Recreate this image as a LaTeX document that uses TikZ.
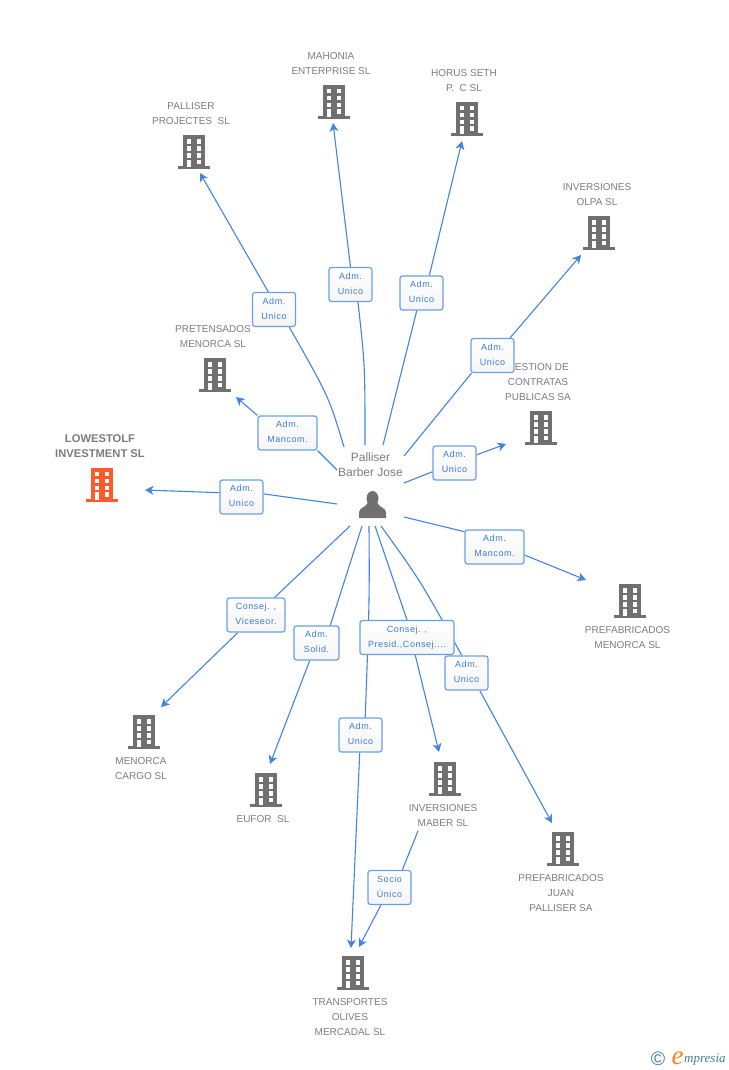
\documentclass[tikz,border=0pt]{standalone}
\usepackage{fontspec}
\setmainfont{Liberation Sans}
\newfontfamily\boxfont[LetterSpace=6]{Liberation Sans}
\newfontfamily\logofont{Liberation Serif}
\usetikzlibrary{arrows.meta,backgrounds}
\definecolor{linkblue}{HTML}{4383E2}
\definecolor{boxblue}{HTML}{6A9FE8}
\definecolor{boxtext}{HTML}{3B7BDC}
\definecolor{labelgray}{HTML}{7C7C7C}
\definecolor{bgray}{HTML}{707070}
\definecolor{borange}{HTML}{FF5A2B}
\definecolor{logoblue}{HTML}{3F7D98}
\definecolor{logoorange}{HTML}{F58220}
\tikzset{
  building/.style={minimum width=32pt,minimum height=35pt,inner sep=0pt,outer sep=0pt,
    path picture={
      \begin{scope}[shift={(path picture bounding box.center)}]
        \fill[#1] (-11,-17) rectangle (11,15);
        \fill[#1] (-16,14) rectangle (16,17);
        \foreach \wy in {-13,-6,1}
          \foreach \wx in {-7.4,2.6}
            \fill[white] (\wx,\wy) rectangle ++(4.8,4.5);
        \fill[white] (-7.4,7.5) rectangle (-2.6,15);
        \fill[white] (2.6,7.5) rectangle (7.4,12);
      \end{scope}
    }},
  building/.default=bgray,
  company/.style={text=labelgray,font=\fontsize{10}{15}\selectfont,align=center,inner sep=0pt},
  rolebox/.style={draw=boxblue,line width=1.2pt,rounded corners=2.5pt,top color=white,bottom color=black!4,
    text=boxtext,font=\boxfont\fontsize{9}{15}\selectfont,align=center,inner sep=0pt,minimum height=34pt,text depth=2pt},
  link/.style={draw=linkblue,line width=1.1pt},
  linkto/.style={link,-{Stealth[length=8.5pt,width=9pt,inset=2.5pt]}}
}
\begin{document}
\begin{tikzpicture}[x=1pt,y=-1pt]
\useasboundingbox (0,0) rectangle (728,1070);
% the free ends of the connectors
\foreach \pname/\px/\py in {s1/344/447,s2/365/445,s3/383/445,s4/404/456,s5/404/483,s6/337/470,s7/337/504,
    s8/404/517,s9/350/526,s10/362/526,s11/369/526,s12/375/526,s13/381/526,s14/418/831,
    t1/200/173,t2/333/123,t3/462/141,t4/581/255,t5/506/444,t6/236/397,t7/145/490,t8/586/580,
    t9/161/707,t10/270/764,t11/351/948,t12/439/752,t13/552/823,t14/359/947}
  \coordinate (\pname) at (\px,\py);
% the company names
\node[company] (palliserlabel) at (191,113.5) {PALLISER\\PROJECTES~ SL};
\node[company] (mahonialabel) at (331,63.5) {MAHONIA\\ENTERPRISE SL};
\node[company] (horuslabel) at (464,80.5) {HORUS SETH\\P.~ C SL};
\node[company] (olpalabel) at (597,194.5) {INVERSIONES\\OLPA SL};
\node[company] (gestionlabel) at (538,382) {GESTION DE\\CONTRATAS\\PUBLICAS SA};
\node[company] (pretensadoslabel) at (213,336.5) {PRETENSADOS\\MENORCA SL};
\node[company,font=\bfseries\fontsize{11.2}{15}\selectfont] (lowestolflabel) at (100,446.5) {LOWESTOLF\\INVESTMENT SL};
\node[company,font=\fontsize{12}{15}\selectfont] (personlabel) at (370.5,464.5) {Palliser\\Barber Jose};
\node[company] (prefmenorcalabel) at (627.5,637.5) {PREFABRICADOS\\MENORCA SL};
\node[company] (cargolabel) at (141,768.5) {MENORCA\\CARGO SL};
\node[company] (euforlabel) at (263,819) {EUFOR~ SL};
\node[company] (maberlabel) at (443,815.5) {INVERSIONES\\MABER SL};
\node[company] (juanlabel) at (561,893) {PREFABRICADOS\\JUAN\\PALLISER SA};
\node[company] (transporteslabel) at (350,1017) {TRANSPORTES\\OLIVES\\MERCADAL SL};
% the buildings
\node[building] (palliser) at (194,152) {};
\node[building] (mahonia) at (334,102) {};
\node[building] (horus) at (467,119) {};
\node[building] (olpa) at (599,233) {};
\node[building] (gestion) at (541,428) {};
\node[building] (pretensados) at (215,375) {};
\node[building=borange] (lowestolf) at (102,484.5) {};
\node[building] (prefmenorca) at (630,601) {};
\node[building] (cargo) at (144,732) {};
\node[building] (eufor) at (266,790) {};
\node[building] (maber) at (445,779) {};
\node[building] (juan) at (563,849) {};
\node[building] (transportes) at (353,973) {};
% the person
\node[minimum size=32pt,inner sep=0pt,path picture={
    \begin{scope}[shift={(path picture bounding box.center)}]
      \fill[bgray] (0,-6.5) ellipse (6 and 7.5);
      \fill[bgray] (-13.5,13) -- (-13.5,7) .. controls (-12.5,2) and (-6.5,2.5) .. (-5,-2)
        -- (5,-2) .. controls (6.5,2.5) and (12.5,2) .. (13.5,7) -- (13.5,13) -- cycle;
    \end{scope}
  }] (person) at (372.5,505) {};
% the role boxes
\node[rolebox,minimum width=43pt] (b1) at (274,309.5) {Adm.\\Unico};
\node[rolebox,minimum width=43pt] (b2) at (350.5,284.5) {Adm.\\Unico};
\node[rolebox,minimum width=43pt] (b3) at (421.5,293) {Adm.\\Unico};
\node[rolebox,minimum width=43pt] (b4) at (492.5,355.5) {Adm.\\Unico};
\node[rolebox,minimum width=43pt] (b5) at (454.5,463) {Adm.\\Unico};
\node[rolebox,minimum width=59pt] (b6) at (287.5,433) {Adm.\\Mancom.};
\node[rolebox,minimum width=43pt] (b7) at (241.5,497) {Adm.\\Unico};
\node[rolebox,minimum width=59pt] (b8) at (494.5,547) {Adm.\\Mancom.};
\node[rolebox,minimum width=58pt] (b9) at (256,615) {Consej. ,\\Viceseor.};
\node[rolebox,minimum width=45pt] (b10) at (316.5,643) {Adm.\\Solid.};
\node[rolebox,minimum width=43pt] (b11) at (360.5,735) {Adm.\\Unico};
\node[rolebox,minimum width=94pt] (b12) at (407,637.5) {Consej. ,\\Presid.,Consej....};
\node[rolebox,minimum width=43pt] (b13) at (466.5,673) {Adm.\\Unico};
\node[rolebox,minimum width=43pt] (b14) at (389.5,887.5) {Socio\\Único};
% the connectors
\begin{scope}[on background layer]
\draw[link] (s1) .. controls (329,397) .. (b1.-49);
\draw[linkto] (b1.108) -- (t1);
\draw[link] (s2) .. controls (365,365) .. (b2.-67);
\draw[linkto] (b2.north) -- (t2);
\draw[link] (s3) -- (b3.-105);
\draw[linkto] (b3.66) -- (t3);
\draw[link] (s4) -- (b4.220);
\draw[linkto] (b4.45) -- (t4);
\draw[link] (s5) -- (b5);
\draw[linkto] (b5) -- (t5);
\draw[link] (s6) -- (b6.south east);
\draw[linkto] (b6.north west) -- (t6);
\draw[link] (s7) -- (b7.8);
\draw[linkto] (b7.169) -- (t7);
\draw[link] (s8) -- (b8.153);
\draw[linkto] (b8.-15) -- (t8);
\draw[link] (s9) -- (b9);
\draw[linkto] (b9) -- (t9);
\draw[link] (s10) -- (b10.52);
\draw[linkto] (b10) -- (t10);
\draw[link] (s11) .. controls (369.5,600) .. (b11.75);
\draw[linkto] (b11) -- (t11);
\draw[link] (s12) -- (b12.north);
\draw[linkto] (b12.-65) -- (t12);
\draw[link] (s13) .. controls (420,580) .. (b13.105);
\draw[linkto] (b13.-53) -- (t13);
\draw[link] (s14) -- (b14.54);
\draw[linkto] (b14.-116) -- (t14);
\end{scope}
% the logo
\node[inner sep=0pt,text=logoblue,font=\fontsize{19.5}{20}\selectfont] (logoc) at (658,1058.5) {©};
\node[inner sep=0pt,text=logoorange,font=\logofont\itshape\fontsize{27}{27}\selectfont] (logoe) at (677.5,1058) {e};
\node[inner sep=0pt,text=logoblue,font=\logofont\itshape\fontsize{13}{14}\selectfont,anchor=west] (logotext) at (684,1060) {mpresia};
\end{tikzpicture}
\end{document}
